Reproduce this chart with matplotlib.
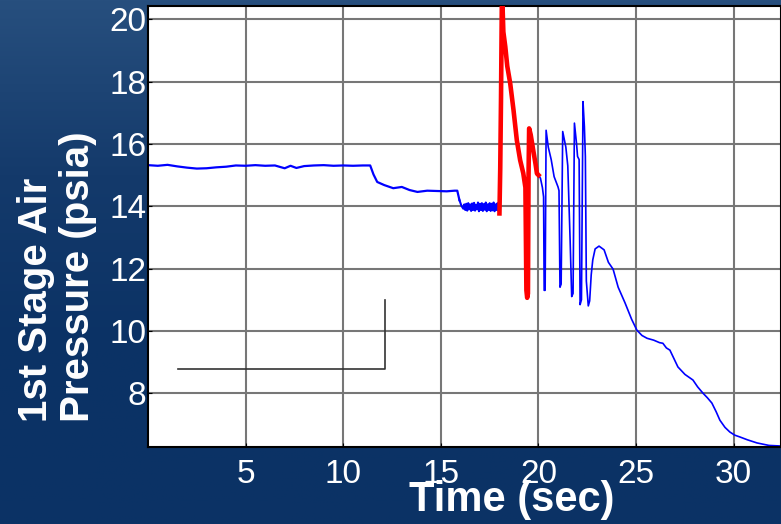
import numpy as np
import matplotlib.pyplot as plt
from matplotlib.colors import LinearSegmentedColormap

plt.rcParams['font.family'] = ['Liberation Sans', 'DejaVu Sans']

# steady stage, before the step down (blue)
pre_t = [0.0, 0.5, 1.0, 1.5, 2.0, 2.5, 3.0, 3.5, 4.0, 4.5, 5.0, 5.5, 6.0, 6.5,
         7.0, 7.3, 7.6, 8.0, 8.5, 9.0, 9.5, 10.0, 10.5, 11.0, 11.38, 11.55,
         11.74, 12.1, 12.56, 13.0, 13.4, 13.8, 14.3, 14.8, 15.3, 15.7, 15.84]
pre_p = [15.32, 15.30, 15.33, 15.28, 15.24, 15.21, 15.22, 15.25, 15.27, 15.31,
         15.30, 15.32, 15.30, 15.31, 15.22, 15.30, 15.23, 15.29, 15.31, 15.32,
         15.30, 15.31, 15.30, 15.31, 15.31, 15.02, 14.78, 14.68, 14.58, 14.62,
         14.52, 14.46, 14.50, 14.49, 14.48, 14.50, 14.50]

# oscillating band before ignition (blue)
band_t = [15.95, 16.05, 16.15, 16.2, 16.25, 16.3, 16.35, 16.4, 16.45, 16.5,
          16.55, 16.6, 16.65, 16.7, 16.75, 16.8, 16.85, 16.9, 16.95, 17.0,
          17.05, 17.1, 17.15, 17.2, 17.25, 17.3, 17.35, 17.4, 17.45, 17.5,
          17.55, 17.6, 17.65, 17.7, 17.75, 17.8, 17.85, 17.9, 17.95, 18.0]
band_p = [14.20, 14.02, 13.92, 14.06, 13.88, 14.08, 13.86, 14.10, 13.90, 14.06,
          13.85, 14.09, 13.88, 14.11, 13.86, 14.05, 13.90, 14.12, 13.84, 14.08,
          13.88, 14.10, 13.85, 14.07, 13.89, 14.12, 13.84, 14.06, 13.88, 14.10,
          13.85, 14.08, 13.87, 14.12, 13.84, 14.06, 13.88, 14.10, 13.85, 14.00]

# highlighted surge (red)
red_t = [18.0, 18.04, 18.08, 18.12, 18.15, 18.2, 18.3, 18.4, 18.55, 18.72,
         18.89, 19.06, 19.22, 19.33, 19.38, 19.42, 19.46, 19.49, 19.52, 19.6,
         19.73, 19.85, 19.92, 20.0]
red_p = [13.77, 15.2, 17.47, 20.4, 20.6, 19.6, 19.12, 18.5, 17.95, 17.09,
         16.12, 15.48, 15.06, 14.6, 11.3, 11.06, 11.2, 15.0, 16.5, 16.3,
         15.8, 15.35, 15.05, 15.0]

# cycling and blow-down after the surge (blue)
post_t = [20.0, 20.1, 20.2, 20.26, 20.29, 20.34, 20.39, 20.5, 20.65, 20.8,
          21.0, 21.05, 21.1, 21.16, 21.24, 21.4, 21.5, 21.62, 21.7, 21.77,
          21.84, 21.95, 22.0, 22.08, 22.13, 22.2, 22.28, 22.35, 22.4, 22.45,
          22.55, 22.62, 22.7, 22.78, 22.9, 23.1, 23.36, 23.58, 23.82, 24.08,
          24.43, 24.77, 25.04, 25.3, 25.56, 25.9, 26.2, 26.37, 26.55, 26.73,
          27.14, 27.5, 27.91, 28.15, 28.42, 28.65, 28.88, 29.1, 29.29, 29.55,
          29.8, 30.05, 30.32, 30.7, 31.19, 31.8, 32.42]
post_p = [15.0, 14.9, 14.6, 14.3, 11.3, 11.3, 16.44, 15.9, 15.5, 14.95,
          14.62, 14.5, 11.4, 11.5, 16.4, 15.9, 15.3, 12.9, 11.1, 11.2,
          16.67, 16.0, 15.6, 15.5, 10.84, 11.0, 17.36, 16.56, 15.6, 11.6,
          10.8, 10.96, 11.8, 12.28, 12.63, 12.72, 12.6, 12.2, 11.98, 11.4,
          10.9, 10.37, 10.02, 9.85, 9.76, 9.7, 9.62, 9.6, 9.45, 9.38,
          8.84, 8.6, 8.42, 8.2, 8.0, 7.85, 7.68, 7.4, 7.13, 6.9,
          6.75, 6.65, 6.59, 6.5, 6.4, 6.32, 6.3]

x_ticks = [5, 10, 15, 20, 25, 30]
y_ticks = [8, 10, 12, 14, 16, 18, 20]

fig = plt.figure(figsize=(7.81, 5.24), dpi=100)
fig.patch.set_facecolor('#0c3265')

# backdrop gradient
bg = fig.add_axes([0, 0, 1, 1], zorder=-5)
cmap = LinearSegmentedColormap.from_list('bg', ['#274f7e', '#143a6b', '#0b3265', '#0b3366'])
grad = np.linspace(0, 1, 256).reshape(-1, 1) * np.ones((1, 4))
bg.imshow(grad, aspect='auto', cmap=cmap, extent=[0, 1, 0, 1])
bg.axis('off')

ax = fig.add_axes([0.1895, 0.147, 0.8105, 0.8415])
ax.set_facecolor('white')

ax.plot(pre_t + band_t[:1], pre_p + band_p[:1], color='#0000ff', lw=1.6)
ax.plot(band_t, band_p, color='#0000ff', lw=1.5)
ax.plot(post_t, post_p, color='#0000ff', lw=1.2)
ax.plot(red_t, red_p, color='#ff0000', lw=3.3, zorder=4)

# leftover legend frame
ax.plot([1.55, 12.15, 12.15], [8.77, 8.77, 10.99], color='#333333', lw=1.2)

ax.set_xlim(0, 32.42)
ax.set_ylim(6.27, 20.43)
ax.set_xticks(x_ticks)
ax.set_yticks(y_ticks)
ax.grid(True, color='#777777', lw=1.5)
ax.set_axisbelow(True)
ax.tick_params(direction='in', length=3, color='black', labelcolor='white',
               labelsize=24)
ax.tick_params(axis='x', pad=9)
ax.tick_params(axis='y', pad=1)
for s in ax.spines.values():
    s.set_color('black')
    s.set_linewidth(1.5)

fig.text(512 / 781, 1 - 500 / 524, 'Time (sec)', color='white', fontsize=30,
         fontweight='bold', ha='center', va='center')
fig.text(57 / 781, 1 - 422 / 524, '1st Stage Air\nPressure (psia)', color='white',
         fontsize=29, fontweight='bold', rotation=90, ha='center', va='bottom',
         multialignment='left', linespacing=1.15)

fig.savefig('out.png', dpi=100, facecolor=fig.get_facecolor())
